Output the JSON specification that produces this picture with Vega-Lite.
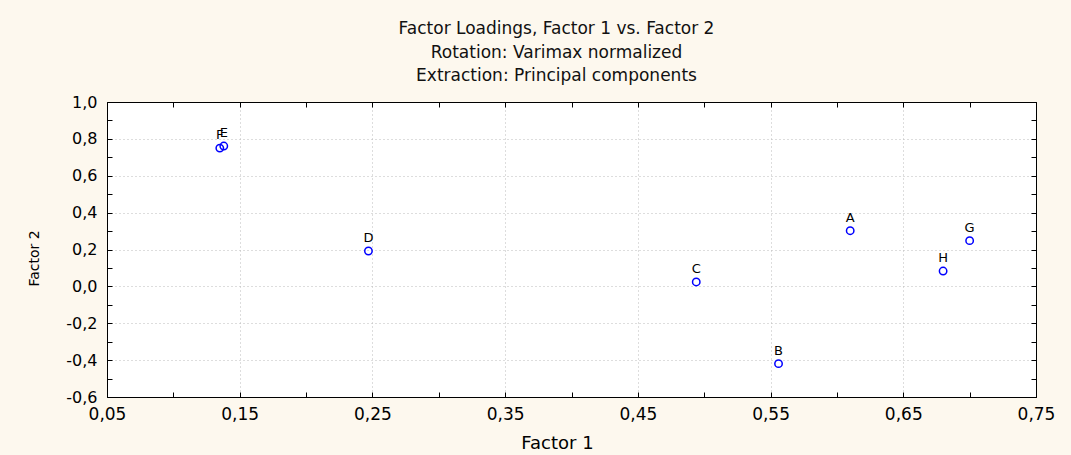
{
  "$schema": "https://vega.github.io/schema/vega-lite/v6.json",
  "width": 929,
  "height": 295,
  "autosize": "none",
  "padding": {"left": 107, "top": 102, "right": 35, "bottom": 58},
  "background": "#FDF8EE",
  "title": {
    "text": ["Factor Loadings, Factor 1 vs. Factor 2", "Rotation: Varimax normalized", "Extraction: Principal components"],
    "fontSize": 17, "fontWeight": "normal", "font": "DejaVu Sans", "lineHeight": 23.3,
    "offset": 9, "dx": -15, "anchor": "middle", "color": "#111"
  },
  "config": {
    "view": {"fill": "white", "stroke": "#000", "strokeWidth": 1},
    "axis": {"labelFont": "DejaVu Sans", "titleFont": "DejaVu Sans", "labelColor": "#000", "titleColor": "#000"}
  },
  "data": {"values": [
    {"var": "A", "f1": 0.610, "f2": 0.302},
    {"var": "B", "f1": 0.556, "f2": -0.419},
    {"var": "C", "f1": 0.494, "f2": 0.024},
    {"var": "D", "f1": 0.247, "f2": 0.192},
    {"var": "E", "f1": 0.138, "f2": 0.761},
    {"var": "F", "f1": 0.135, "f2": 0.750},
    {"var": "G", "f1": 0.700, "f2": 0.248},
    {"var": "H", "f1": 0.680, "f2": 0.083}
  ]},
  "resolve": {"axis": {"x": "independent", "y": "independent"}},
  "layer": [
    {
      "mark": {"type": "point", "shape": "circle", "filled": false, "stroke": "#0000FF", "strokeWidth": 1.5, "size": 55, "opacity": 1},
      "encoding": {
        "x": {"field": "f1", "type": "quantitative", "scale": {"domain": [0.05, 0.75], "nice": false, "zero": false},
          "axis": {"orient": "bottom", "title": "Factor 1", "titleFontSize": 18, "titleFontWeight": "normal",
            "titleX": 450, "titleY": 51, "titleBaseline": "alphabetic", "titleAnchor": "middle", "titleAlign": "center",
            "values": [0.05,0.1,0.15,0.2,0.25,0.3,0.35,0.4,0.45,0.5,0.55,0.6,0.65,0.7,0.75],
            "labelExpr": "round(datum.value*100) % 10 == 5 ? replace(format(datum.value, '.2f'), '.', ',') : ''",
            "labelFontSize": 17, "labelPadding": 14, "labelFlush": false, "labelOverlap": false,
            "tickSize": -5, "tickColor": "#000", "domainColor": "#000",
            "grid": true, "gridDash": [1, 3], "gridColor": "#bbbbbb",
            "gridOpacity": {"condition": {"test": "round(datum.value*100) % 10 == 5", "value": 1}, "value": 0}}},
        "y": {"field": "f2", "type": "quantitative", "scale": {"domain": [-0.6, 1.0], "nice": false, "zero": false},
          "axis": {"orient": "left", "title": "Factor 2", "titleFontSize": 14, "titleFontWeight": "normal",
            "titleX": -73, "titleY": 156, "titleAngle": -90, "titleBaseline": "middle", "titleAlign": "center", "titleAnchor": "middle",
            "values": [-0.6,-0.5,-0.4,-0.3,-0.2,-0.1,0,0.1,0.2,0.3,0.4,0.5,0.6,0.7,0.8,0.9,1.0],
            "labelExpr": "round(datum.value*10) % 2 == 0 ? replace(replace(format(datum.value, '.1f'), '.', ','), '−', '-') : ''",
            "labelFontSize": 16, "labelPadding": 15, "labelFlush": false, "labelOverlap": false,
            "tickSize": -5, "tickColor": "#000", "domainColor": "#000",
            "grid": true, "gridDash": [1, 3], "gridColor": "#bbbbbb",
            "gridOpacity": {"condition": {"test": "round(datum.value*10) % 2 == 0", "value": 1}, "value": 0}}}
      }
    },
    {
      "mark": {"type": "text", "dy": -9, "baseline": "alphabetic", "fontSize": 13, "font": "DejaVu Sans", "color": "#000"},
      "encoding": {
        "x": {"field": "f1", "type": "quantitative", "axis": null},
        "y": {"field": "f2", "type": "quantitative", "axis": null},
        "text": {"field": "var"}
      }
    },
    {
      "mark": {"type": "point", "opacity": 0},
      "encoding": {
        "x": {"field": "f1", "type": "quantitative",
          "axis": {"orient": "top", "title": null, "labels": false, "grid": false, "domainColor": "#000", "tickColor": "#000", "tickSize": -5,
            "values": [0.05,0.1,0.15,0.2,0.25,0.3,0.35,0.4,0.45,0.5,0.55,0.6,0.65,0.7,0.75]}},
        "y": {"field": "f2", "type": "quantitative",
          "axis": {"orient": "right", "title": null, "labels": false, "grid": false, "domainColor": "#000", "tickColor": "#000", "tickSize": -5,
            "values": [-0.6,-0.5,-0.4,-0.3,-0.2,-0.1,0,0.1,0.2,0.3,0.4,0.5,0.6,0.7,0.8,0.9,1.0]}}
      }
    }
  ]
}
